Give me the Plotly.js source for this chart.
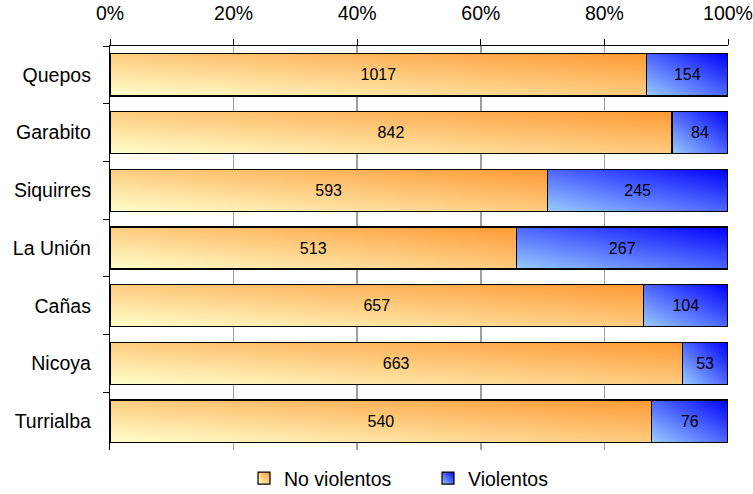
<!DOCTYPE html>
<html>
<head>
<meta charset="utf-8">
<script src="https://cdn.plot.ly/plotly-3.0.1.min.js"></script>
<style>
  html, body { margin: 0; padding: 0; background: #fff; }
  #chart { width: 753px; height: 494px; }
</style>
</head>
<body>
<div id="chart"></div>
<script>
const categories = ['Quepos', 'Garabito', 'Siquirres', 'La Unión', 'Cañas', 'Nicoya', 'Turrialba'];
const noViolentos = [1017, 842, 593, 513, 657, 663, 540];
const violentos = [154, 84, 245, 267, 104, 53, 76];
const seriesNames = ['No violentos', 'Violentos'];

const FONT = '"Liberation Sans", Arial, sans-serif';
const gradients = [
  { light: '#FFFFCC', dark: '#FF9933' },
  { light: '#99CCFF', dark: '#0000FF' }
];

function barTrace(name, vals, color) {
  return {
    type: 'bar',
    orientation: 'h',
    name: name,
    y: categories,
    x: vals,
    text: vals.map(String),
    texttemplate: '%{text}',
    textposition: 'inside',
    insidetextanchor: 'middle',
    textangle: 0,
    constraintext: 'none',
    textfont: { family: FONT, size: 16, color: '#000' },
    marker: { color: color, line: { color: '#000', width: 1.2 } },
    hoverinfo: 'none'
  };
}

const data = [
  barTrace(seriesNames[0], noViolentos, gradients[0].dark),
  barTrace(seriesNames[1], violentos, gradients[1].dark)
];

const layout = {
  width: 753,
  height: 494,
  margin: { l: 110, r: 25, t: 46, b: 44, autoexpand: false },
  paper_bgcolor: '#fff',
  plot_bgcolor: '#fff',
  font: { family: FONT, size: 19.5, color: '#000' },
  barmode: 'stack',
  barnorm: 'percent',
  bargap: 0.27,
  showlegend: true,
  legend: {
    orientation: 'h',
    x: 0.5146, xanchor: 'center',
    y: -0.022, yanchor: 'top',
    entrywidth: 139,
    traceorder: 'normal',
    font: { family: FONT, size: 19.5, color: '#000' }
  },
  xaxis: {
    side: 'top',
    range: [0, 100],
    tickvals: [0, 20, 40, 60, 80, 100],
    ticktext: ['0%', '20%', '40%', '60%', '80%', '100%'],
    showgrid: true,
    gridcolor: '#a0a0a0',
    gridwidth: 1.5,
    zeroline: false,
    showline: true,
    linecolor: '#000',
    linewidth: 1.2,
    ticks: 'outside',
    ticklen: 6,
    tickcolor: '#000',
    ticklabelstandoff: 11,
    tickfont: { family: FONT, size: 19.5, color: '#000' },
    fixedrange: true
  },
  yaxis: {
    type: 'category',
    categoryorder: 'array',
    categoryarray: categories,
    autorange: 'reversed',
    showgrid: false,
    zeroline: false,
    showline: true,
    linecolor: '#000',
    linewidth: 1.2,
    ticks: 'outside',
    tickson: 'boundaries',
    ticklen: 6,
    tickcolor: '#000',
    ticklabelstandoff: 14,
    tickfont: { family: FONT, size: 19.5, color: '#000' },
    fixedrange: true
  }
};

Plotly.newPlot('chart', data, layout, { staticPlot: true, displayModeBar: false }).then(function (gd) {
  const ns = 'http://www.w3.org/2000/svg';
  const svg = gd.querySelector('svg.main-svg');
  let defs = svg.querySelector('defs');
  if (!defs) { defs = document.createElementNS(ns, 'defs'); svg.insertBefore(defs, svg.firstChild); }
  gradients.forEach(function (g, i) {
    const lg = document.createElementNS(ns, 'linearGradient');
    lg.setAttribute('id', 'barGrad' + i);
    lg.setAttribute('x1', '0'); lg.setAttribute('y1', '1');
    lg.setAttribute('x2', '1'); lg.setAttribute('y2', '0');
    const s1 = document.createElementNS(ns, 'stop');
    s1.setAttribute('offset', '0'); s1.setAttribute('stop-color', g.light);
    const s2 = document.createElementNS(ns, 'stop');
    s2.setAttribute('offset', '1'); s2.setAttribute('stop-color', g.dark);
    lg.appendChild(s1); lg.appendChild(s2);
    defs.appendChild(lg);
  });
  gd.querySelectorAll('.barlayer .trace').forEach(function (tr) {
    const d = tr.__data__;
    const idx = d && d[0] && d[0].trace ? d[0].trace.index : 0;
    tr.querySelectorAll('path').forEach(function (p) { p.style.fill = 'url(#barGrad' + idx + ')'; });
  });
  gd.querySelectorAll('.legend .traces').forEach(function (tr) {
    const d = tr.__data__;
    const idx = d && d[0] && d[0].trace ? d[0].trace.index : 0;
    tr.querySelectorAll('.legendpoints path').forEach(function (p) { p.style.fill = 'url(#barGrad' + idx + ')'; });
  });
});
</script>
</body>
</html>
